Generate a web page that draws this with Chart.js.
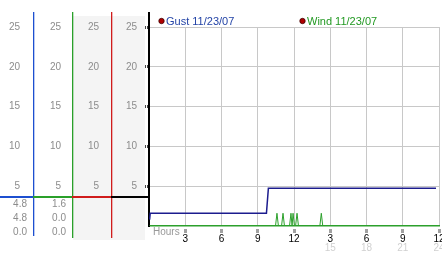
<!DOCTYPE html>
<html lang="en">
<head>
<meta charset="UTF-8">
<title>Gust / Wind 11/23/07</title>
<script src="https://cdn.jsdelivr.net/npm/chart.js"></script>
<style>
  body { margin: 0; background: #fff; }
</style>
</head>
<body>
<canvas id="windChart" width="442" height="253"></canvas>
<script>
  // series names
  const seriesNames = ['Gust 11/23/07', 'Wind 11/23/07'];

  // gust trace (hours since midnight)
  const gustHours  = [0.05, 0.1, 9.72, 9.88, 23.75];
  const gustValues = [0.8, 1.6, 1.6, 4.75, 4.75];

  // wind trace: flat with a few short puffs
  const windHours  = [0, 10.47, 10.59, 10.71, 10.97, 11.09, 11.21, 11.63, 11.75, 11.84, 11.92, 12.04, 12.13, 12.25, 12.37, 14.14, 14.26, 14.38, 24];
  const windValues = [0, 0, 1.6, 0, 0, 1.6, 0, 0, 1.6, 0, 1.6, 0, 0, 1.6, 0, 0, 1.6, 0, 0];

  // readouts under the left columns (max / current / min)
  const gustStats = ['4.8', '4.8', '0.0'];
  const windStats = ['1.6', '0.0', '0.0'];

  // tick labels
  const yTickValues = [5, 10, 15, 20, 25];
  const hourTicks    = [3, 6, 9, 12, 15, 18, 21, 24];
  const hourLabels   = ['3', '6', '9', '12', '3', '6', '9', '12'];
  const hour24Labels = ['', '', '', '', '15', '18', '21', '24'];

  const FONT = { family: "'Liberation Sans', Arial, sans-serif", size: 10 };
  const GRID = '#c8c8c8';

  const yLabel = v => yTickValues.includes(v) ? String(v) : '';

  // extra label columns left of the plot
  function sideAxis(weight, width, pad) {
    return {
      position: 'left', weight: weight, min: 0, max: 25,
      grid: { display: false, drawTicks: false },
      border: { display: false },
      ticks: { stepSize: 5, padding: pad, color: '#8c8c8c', font: FONT, callback: yLabel },
      afterFit: s => { s.width = width; }
    };
  }

  // column rules, readouts, legend and "Hours" caption
  const panelDecor = {
    id: 'panelDecor',
    beforeDraw(chart) {
      const ctx = chart.ctx;
      const c2 = chart.scales.yc2, c4 = chart.scales.y;
      ctx.save();
      ctx.fillStyle = '#f4f4f4';
      ctx.fillRect(c2.right + 1, 16, c4.right - 4 - c2.right - 1, 224);
      ctx.restore();
    },
    afterDraw(chart) {
      const ctx = chart.ctx;
      const s = chart.scales;
      const area = chart.chartArea;
      const cols = [
        { r: s.yc1.right, color: '#1d4fd0', bottom: 236 },
        { r: s.yc2.right, color: '#2aa02a', bottom: 238 },
        { r: s.yc3.right, color: '#d01c1c', bottom: 238 }
      ];
      ctx.save();
      cols.forEach(c => {
        ctx.fillStyle = c.color;
        ctx.fillRect(c.r, 12, 1.3, c.bottom - 12);
      });
      // black axis runs up into the legend strip
      ctx.fillStyle = '#000';
      ctx.fillRect(area.left - 1, 12, 2, area.top - 12);

      // coloured bar across the columns
      const barY = area.bottom - 30;
      const edges = [0, s.yc1.right, s.yc2.right, s.yc3.right, area.left];
      const barColors = ['#1d4fd0', '#2aa02a', '#d01c1c', '#000'];
      barColors.forEach((col, i) => {
        ctx.fillStyle = col;
        ctx.fillRect(edges[i], barY, edges[i + 1] - edges[i], 2);
      });

      // readouts
      ctx.font = "10px 'Liberation Sans', Arial, sans-serif";
      ctx.fillStyle = '#8c8c8c';
      ctx.textAlign = 'right';
      ctx.textBaseline = 'middle';
      gustStats.forEach((t, i) => ctx.fillText(t, s.yc1.right - 6, barY + 8 + i * 14));
      windStats.forEach((t, i) => ctx.fillText(t, s.yc2.right - 6, barY + 8 + i * 14));

      // legend
      ctx.textAlign = 'left';
      const legendY = area.top - 6;
      const legendX = [area.left + 12.5, area.left + area.width / 2 + 8.5];
      const legendColors = ['#2343a6', '#229922'];
      chart.data.datasets.forEach((ds, i) => {
        ctx.beginPath();
        ctx.arc(legendX[i], legendY, 2.7, 0, Math.PI * 2);
        ctx.fillStyle = '#b00000';
        ctx.fill();
        ctx.strokeStyle = '#400000';
        ctx.lineWidth = 0.8;
        ctx.stroke();
        ctx.fillStyle = legendColors[i];
        ctx.font = "11px 'Liberation Sans', Arial, sans-serif";
        ctx.fillText(ds.label, legendX[i] + 4.5, legendY + 0.5);
      });

      // axis caption
      ctx.font = "10px 'Liberation Sans', Arial, sans-serif";
      ctx.fillStyle = '#999';
      ctx.fillText('Hours', area.left + 4, area.bottom + 6);
      ctx.restore();
    }
  };

  const ctx = document.getElementById('windChart').getContext('2d');

  new Chart(ctx, {
    type: 'line',
    data: {
      datasets: [
        {
          label: seriesNames[0],
          data: gustHours.map((h, i) => ({ x: h, y: gustValues[i] })),
          borderColor: '#1c1c8e', borderWidth: 1.5,
          pointRadius: 0, tension: 0, xAxisID: 'x', yAxisID: 'y'
        },
        {
          label: seriesNames[1],
          data: windHours.map((h, i) => ({ x: h, y: windValues[i] })),
          borderColor: '#2ca02c', borderWidth: 1,
          pointRadius: 0, tension: 0, xAxisID: 'x', yAxisID: 'y'
        }
      ]
    },
    options: {
      responsive: false,
      animation: false,
      layout: { padding: { top: 27, right: 3, left: 0, bottom: 0 } },
      plugins: { legend: { display: false }, tooltip: { enabled: false } },
      scales: {
        x: {
          type: 'linear', position: 'bottom', min: 0, max: 24, weight: 0,
          grid: {
            color: c => c.tick && c.tick.value === 0 ? 'transparent' : GRID,
            tickLength: 7, tickWidth: 3,
            tickColor: c => c.tick && c.tick.value === 0 ? 'transparent' : '#444',
            tickBorderDash: [0, 3, 1, 1, 1, 1, 1, 10]
          },
          border: { display: true, color: '#2ca02c', width: 1.5 },
          ticks: {
            stepSize: 3, padding: 0, color: '#000', font: FONT, maxRotation: 0, autoSkip: false,
            callback: v => { const i = hourTicks.indexOf(v); return i < 0 ? '' : hourLabels[i]; }
          },
          afterFit: s => { s.height = 16; s.paddingLeft = 0; s.paddingRight = 0; }
        },
        x2: {
          type: 'linear', position: 'bottom', min: 0, max: 24, weight: 1,
          grid: { display: false, drawTicks: false },
          border: { display: false },
          ticks: {
            stepSize: 3, padding: 0, color: '#d0d0d0', font: FONT, maxRotation: 0, autoSkip: false,
            callback: v => { const i = hourTicks.indexOf(v); return i < 0 ? '' : hour24Labels[i]; }
          },
          afterFit: s => { s.height = 11; s.paddingLeft = 0; s.paddingRight = 0; }
        },
        y: {
          position: 'left', weight: 0, min: 0, max: 25,
          grid: {
            color: c => c.tick && c.tick.value === 0 ? 'transparent' : GRID,
            tickLength: 4, tickWidth: 3,
            tickColor: c => c.tick && c.tick.value === 0 ? 'transparent' : '#444',
            tickBorderDash: [1, 1]
          },
          border: { color: '#000', width: 2 },
          ticks: { stepSize: 5, padding: 8, color: '#8c8c8c', font: FONT, callback: yLabel },
          afterFit: s => { s.width = 38; }
        },
        yc3: sideAxis(1, 39, 12),
        yc2: sideAxis(2, 39, 11),
        yc1: sideAxis(3, 33, 13)
      }
    },
    plugins: [panelDecor]
  });
</script>
</body>
</html>
